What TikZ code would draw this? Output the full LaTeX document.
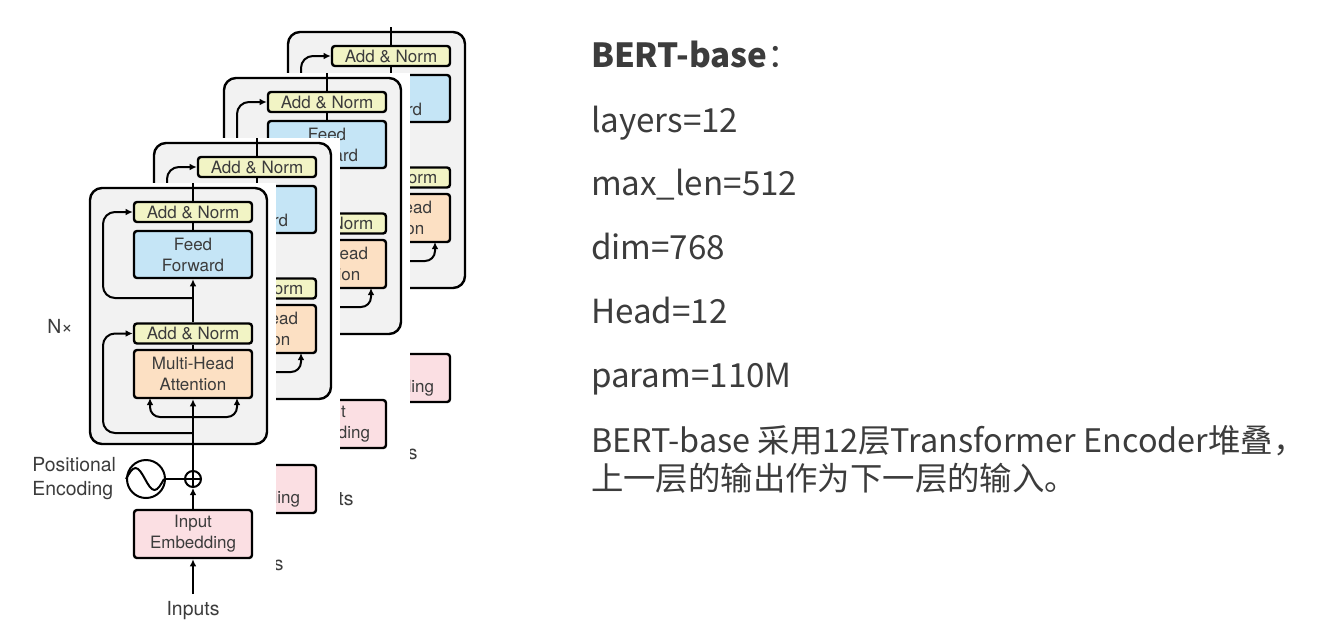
\documentclass[tikz,border=0pt]{standalone}
\usepackage{fontspec}
\usetikzlibrary{arrows.meta}
\setmainfont{TeX Gyre Heros}
\newfontfamily\cjk{Noto Sans CJK SC}
\definecolor{boxgray}{RGB}{242,242,242}
\definecolor{anyellow}{RGB}{242,244,197}
\definecolor{ffblue}{RGB}{197,229,246}
\definecolor{mhaorange}{RGB}{252,224,195}
\definecolor{embpink}{RGB}{251,223,227}
\definecolor{labelgray}{RGB}{60,60,60}
\tikzset{
  >={Latex[length=3.6pt,width=3.4pt]},
  layerbox/.style={draw, line width=1.2pt, rounded corners=1.5pt, minimum width=59pt,
    inner sep=0pt, align=center, text=labelgray, font=\fontsize{8.5}{10.5}\selectfont},
  addnorm/.style={layerbox, fill=anyellow, minimum height=10pt},
  feedfwd/.style={layerbox, fill=ffblue, minimum height=23.5pt},
  attn/.style={layerbox, fill=mhaorange, minimum height=24pt},
  embed/.style={layerbox, fill=embpink, minimum height=24pt},
  encbox/.style={draw, line width=1.2pt, fill=boxgray, rounded corners=6pt},
  sidelabel/.style={font=\fontsize{9.7}{12}\selectfont},
  info/.style={anchor=base west, inner sep=0pt, font=\cjk\fontsize{16.6}{19}\selectfont},
}
\begin{document}
\begin{tikzpicture}[x=0.5pt,y=-0.5pt,line width=1pt,text=labelgray,font=\fontsize{8.5}{10.5}\selectfont]
  \useasboundingbox (0,0) rectangle (1318,634);
  % four encoder copies, back to front
  \foreach \dx/\dy/\k in {198/-156/4,134/-110/3,64/-45/2,0/0/1} {
    \begin{scope}[shift={(\dx,\dy)},name prefix=e\k-]
      \fill[white] (25,183) rectangle (276,640);
      \draw[encbox] (90,188) rectangle (267,444);
      \node[addnorm] (an2) at (193,212) {Add \& Norm};
      \node[feedfwd] (ff) at (193,254.5) {Feed\\Forward};
      \node[addnorm] (an1) at (193,333.5) {Add \& Norm};
      \node[attn] (mha) at (193,374) {Multi-Head\\Attention};
      \node[embed] (emb) at (193,534) {Input\\Embedding};
      \node[draw,circle,minimum size=8pt,inner sep=0pt] (plus) at (193,479) {};
      \node[draw,circle,minimum size=19pt,inner sep=0pt] (pe) at (146,479) {};
      \node[sidelabel,align=left,anchor=east,inner sep=0pt] (petext) at (117,479) {Positional\\Encoding};
      \node[sidelabel] (nx) at (60,326) {N×};
      \node[sidelabel] (inputs) at (193,611) {Inputs};
      \coordinate (out) at (193,183);
      \coordinate (res1) at (193,433);
      \coordinate (res2) at (193,298);
      \coordinate (split) at (193,417);
      \coordinate (mhal) at (150,398);
      \coordinate (mhar) at (237,398);
      \draw (plus.north) -- (plus.south) (plus.west) -- (plus.east);
      \draw (pe.west) sin ++(9.5,-11) cos ++(9.5,11) sin ++(9.5,11) cos ++(9.5,-11);
      \draw (pe) -- (plus);
      \draw[->] (inputs) -- (emb);
      \draw[->] (emb) -- (plus);
      \draw[->] (plus) -- (mha);
      \draw (mha) -- (an1);
      \draw[->] (an1) -- (ff);
      \draw (ff) -- (an2);
      \draw (an2) -- (out);
      \draw[->,rounded corners=5pt] (split) -| (mhal);
      \draw[->,rounded corners=5pt] (split) -| (mhar);
      \draw[->,rounded corners=6pt] (res1) -- (103,433) |- (an1);
      \draw[->,rounded corners=6pt] (res2) -- (103,298) |- (an2);
    \end{scope}
  }
  % model settings
  \node[info] (title) at (590,67) {{\bfseries BERT-base}：};
  \node[info] (layers) at (590,132) {layers=12};
  \node[info] (maxlen) at (590,195) {max\_len=512};
  \node[info] (dim) at (590,259) {dim=768};
  \node[info] (head) at (590,323) {Head=12};
  \node[info] (param) at (590,387) {param=110M};
  \node[info,font=\cjk\fontsize{16.2}{19}\selectfont] (note1) at (590,452) {BERT-base 采用12层Transformer Encoder堆叠，};
  \node[info,font=\cjk\fontsize{16.2}{19}\selectfont] (note2) at (590,490) {上一层的输出作为下一层的输入。};
\end{tikzpicture}
\end{document}
